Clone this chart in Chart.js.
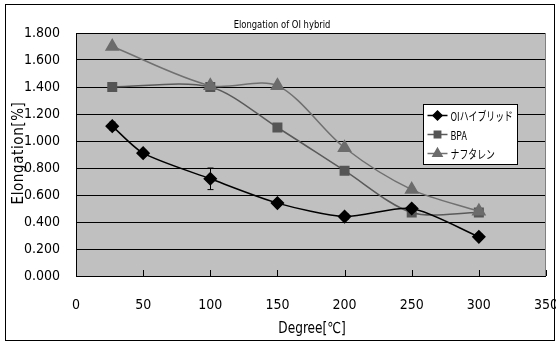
<!DOCTYPE html>
<html><head><meta charset="utf-8">
<script src="https://cdn.jsdelivr.net/npm/chart.js@4/dist/chart.umd.min.js"></script>
<style>html,body{margin:0;padding:0;background:#fff}#w{width:556px;height:343px}</style>
</head><body><div id="w"><canvas id="c" width="556" height="343"></canvas></div>
<script>
const degrees = [27, 50, 100, 150, 200, 250, 300];
const oiValues = [1.11, 0.91, 0.72, 0.54, 0.44, 0.50, 0.29];
const oiErrors = [0.03, 0.02, 0.08, 0.02, 0.02, 0.02, 0.02];
const bpaDegrees = [27, 100, 150, 200, 250, 300];
const bpaValues = [1.40, 1.40, 1.10, 0.78, 0.47, 0.47];
const naphDegrees = [27, 100, 150, 200, 250, 300];
const naphValues = [1.70, 1.41, 1.41, 0.95, 0.64, 0.48];
const seriesNames = ['OIハイブリッド', 'BPA', 'ナフタレン'];
const xTicks = [0, 50, 100, 150, 200, 250, 300, 350];
const yTicks = [0, 0.2, 0.4, 0.6, 0.8, 1.0, 1.2, 1.4, 1.6, 1.8];

const NARROW = '"DejaVu Sans Condensed","DejaVu Sans",sans-serif';
const pts = (xs, ys) => xs.map((x, i) => ({x, y: ys[i]}));

function squeezeText(ctx, text, x, y, sx, align) {
  ctx.save();
  ctx.translate(x, y);
  ctx.scale(sx, 1);
  ctx.textAlign = align;
  ctx.fillText(text, 0, 0);
  ctx.restore();
}

const deco = {
  id: 'deco',
  beforeDraw(chart) {
    const {ctx, chartArea: a} = chart;
    ctx.save();
    ctx.fillStyle = '#fff';
    ctx.fillRect(0, 0, chart.width, chart.height);
    ctx.fillStyle = '#c0c0c0';
    ctx.fillRect(a.left, a.top, a.right - a.left, a.bottom - a.top);
    ctx.strokeStyle = '#000';
    ctx.lineWidth = 1;
    ctx.strokeRect(5.5, 4.5, 549, 336);
    ctx.restore();
  },
  afterDatasetsDraw(chart) {
    const {ctx, chartArea: a, scales: {x, y}} = chart;
    ctx.save();
    // error bars
    ctx.strokeStyle = '#000';
    ctx.lineWidth = 1;
    degrees.forEach((d, i) => {
      const px = Math.round(x.getPixelForValue(d)) + 0.5;
      const y1 = y.getPixelForValue(oiValues[i] - oiErrors[i]);
      const y2 = y.getPixelForValue(oiValues[i] + oiErrors[i]);
      ctx.beginPath();
      ctx.moveTo(px, y1); ctx.lineTo(px, y2);
      ctx.moveTo(px - 3, y1); ctx.lineTo(px + 3, y1);
      ctx.moveTo(px - 3, y2); ctx.lineTo(px + 3, y2);
      ctx.stroke();
    });
    // axes lines
    ctx.beginPath();
    ctx.moveTo(a.left + 0.5, a.top); ctx.lineTo(a.left + 0.5, a.bottom + 0.5);
    ctx.lineTo(a.right, a.bottom + 0.5);
    ctx.stroke();
    ctx.strokeStyle = '#808080';
    ctx.beginPath();
    ctx.moveTo(a.right - 0.5, a.top); ctx.lineTo(a.right - 0.5, a.bottom);
    ctx.stroke();
    // inward x ticks
    ctx.strokeStyle = '#000';
    ctx.beginPath();
    xTicks.forEach(t => {
      const px = Math.round(x.getPixelForValue(t)) + 0.5;
      ctx.moveTo(px, a.bottom); ctx.lineTo(px, a.bottom - 6);
    });
    ctx.stroke();
    // title
    ctx.fillStyle = '#000';
    ctx.textBaseline = 'middle';
    ctx.font = '11px ' + NARROW;
    squeezeText(ctx, 'Elongation of OI hybrid', 282, 25, 0.85, 'center');
    // axis titles
    ctx.font = '15px ' + NARROW;
    squeezeText(ctx, 'Degree[℃]', (a.left + a.right) / 2 + 1, 329, 0.9, 'center');
    ctx.save();
    ctx.translate(19, 153);
    ctx.rotate(-Math.PI / 2);
    ctx.font = '15px ' + NARROW;
    ctx.textAlign = 'center';
    if ('letterSpacing' in ctx) ctx.letterSpacing = '0.6px';
    ctx.fillText('Elongation[%]', 0, 0);
    ctx.restore();
    // legend
    const lx = 423.5, ly = 104.5, lw = 94, lh = 60;
    ctx.fillStyle = '#fff';
    ctx.fillRect(lx, ly, lw, lh);
    ctx.strokeStyle = '#000';
    ctx.lineWidth = 1;
    ctx.strokeRect(lx, ly, lw, lh);
    chart.data.datasets.forEach((ds, i) => {
      const cy = ly + 11 + i * 19;
      ctx.strokeStyle = ds.borderColor;
      ctx.lineWidth = 1.5;
      ctx.beginPath(); ctx.moveTo(lx + 4, cy); ctx.lineTo(lx + 24, cy); ctx.stroke();
      ctx.fillStyle = ds.pointBackgroundColor;
      ctx.strokeStyle = ds.pointBorderColor;
      Chart.helpers.drawPoint(ctx, {pointStyle: ds.pointStyle, radius: ds.pointRadius * 0.75, borderWidth: 1, rotation: 0}, lx + 14, cy);
      ctx.fillStyle = '#000';
      ctx.font = '12px "Noto Sans CJK JP",' + NARROW;
      squeezeText(ctx, seriesNames[i], lx + 27, cy + 1, 0.74, 'left');
    });
    ctx.restore();
  }
};

new Chart(document.getElementById('c'), {
  type: 'scatter',
  data: {
    datasets: [
      {label: seriesNames[0], data: pts(degrees, oiValues), showLine: true, tension: 0.25,
       borderColor: '#000', backgroundColor: '#000', pointBackgroundColor: '#000', pointBorderColor: '#000',
       borderWidth: 1.5, pointStyle: 'rectRot', pointRadius: 6, order: 1},
      {label: seriesNames[1], data: pts(bpaDegrees, bpaValues), showLine: true, tension: 0.3,
       borderColor: '#5a5a5a', backgroundColor: '#555', pointBackgroundColor: '#555', pointBorderColor: '#555',
       borderWidth: 1.5, pointStyle: 'rect', pointRadius: 6, order: 3},
      {label: seriesNames[2], data: pts(naphDegrees, naphValues), showLine: true, tension: 0.3,
       borderColor: '#707070', backgroundColor: '#6c6c6c', pointBackgroundColor: '#6c6c6c', pointBorderColor: '#6c6c6c',
       borderWidth: 1.5, pointStyle: 'triangle', pointRadius: 7, order: 2}
    ]
  },
  options: {
    responsive: false, animation: false,
    layout: {padding: {left: 0, right: 10, top: 33, bottom: 0}},
    plugins: {legend: {display: false}, tooltip: {enabled: false}, title: {display: false}},
    scales: {
      x: {type: 'linear', min: 0, max: 350,
          afterBuildTicks: s => { s.ticks = xTicks.map(v => ({value: v})); },
          afterFit: s => { s.height = 67; s.paddingLeft = 0; s.paddingRight = 0; },
          grid: {display: false}, border: {display: false},
          ticks: {color: '#000', font: {family: NARROW, size: 14}, padding: 13}},
      y: {min: 0, max: 1.8,
          afterBuildTicks: s => { s.ticks = yTicks.map(v => ({value: v})); },
          afterFit: s => { s.width = 76; s.paddingTop = 0; s.paddingBottom = 0; },
          grid: {color: '#000', drawTicks: false, lineWidth: 1}, border: {display: false},
          ticks: {color: '#000', font: {family: NARROW, size: 14}, padding: 16, callback: v => v.toFixed(3)}}
    }
  },
  plugins: [deco]
});
</script></body></html>
